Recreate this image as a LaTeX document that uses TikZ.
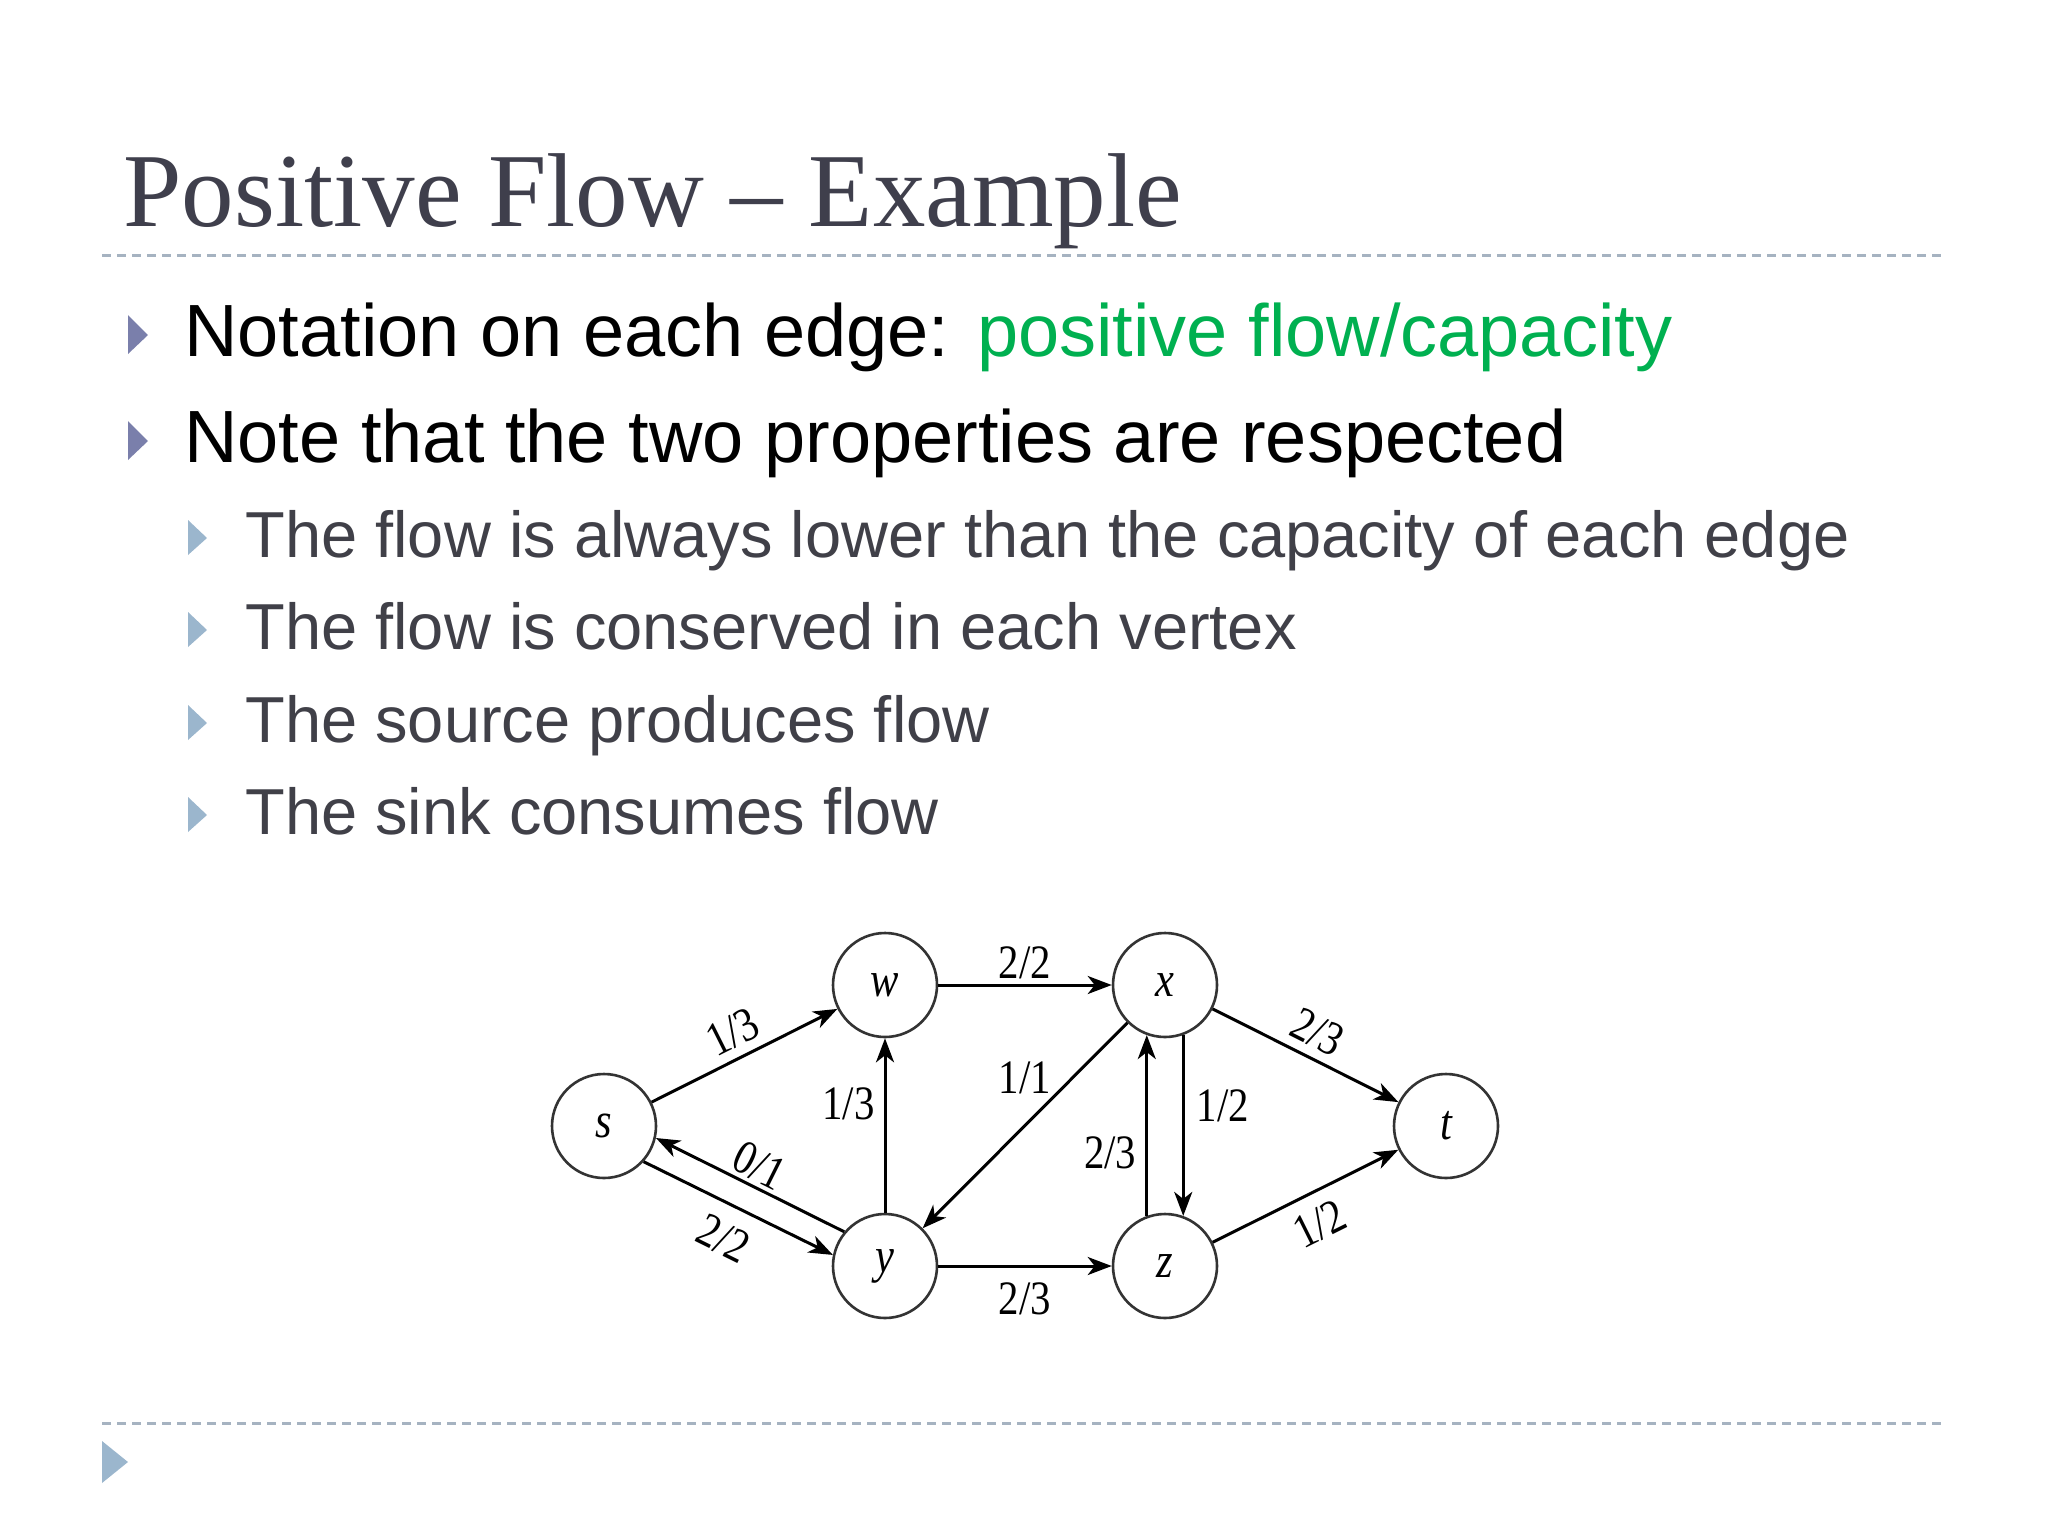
\documentclass[tikz,border=0pt]{standalone}
\usepackage{fontspec}
\usetikzlibrary{arrows.meta}
\newfontfamily\titlefont{Liberation Serif}
\newfontfamily\bodyfont{Liberation Sans}
\newfontfamily\lblfont[FakeStretch=0.85]{Liberation Serif}
\definecolor{titlecol}{HTML}{3F3F4C}
\definecolor{subcol}{HTML}{404048}
\definecolor{greencol}{HTML}{00B050}
\definecolor{bulletA}{HTML}{7A7FAB}
\definecolor{bulletB}{HTML}{9BB6CD}
\definecolor{rulecol}{HTML}{A6B3C1}
\begin{document}
\begin{tikzpicture}[x=0.5pt,y=-0.5pt,
  rulestyle/.style={draw=rulecol, line width=1.5pt, dash pattern=on 4.5pt off 3pt},
  txt/.style={anchor=base west, inner sep=0pt},
  vtx/.style={circle, draw=black!80, line width=1.3pt, minimum size=52pt, inner sep=0pt,
    font=\lblfont\itshape\fontsize{25pt}{25pt}\selectfont},
  lbl/.style={font=\lblfont\fontsize{24pt}{24pt}\selectfont, inner sep=0pt},
  arr/.style={line width=1.5pt, -{Stealth[length=12pt, width=9pt, inset=3.5pt]}},
  rarr/.style={line width=1.5pt, {Stealth[length=12pt, width=9pt, inset=3.5pt]}-}
]
\useasboundingbox (0,0) rectangle (2048,1536);

% title
\node[txt, font=\titlefont\fontsize{52.5pt}{60pt}\selectfont, text=titlecol] (title) at (123,226) {Positive Flow – Example};
\draw[rulestyle] (102,255) -- (1946,255);
\draw[rulestyle] (102,1423) -- (1946,1423);

% level 1 bullets
\fill[bulletA] (128,315) -- (148,335) -- (128,354) -- cycle;
\fill[bulletA] (128,421) -- (148,441) -- (128,460) -- cycle;
\node[txt, font=\bodyfont\fontsize{37pt}{44pt}\selectfont] (b1) at (184,356) {Notation on each edge: \textcolor{greencol}{positive flow/capacity}};
\node[txt, font=\bodyfont\fontsize{37pt}{44pt}\selectfont] (b2) at (184,462) {Note that the two properties are respected};

% level 2 bullets
\foreach \yy in {557,649,742,834} {
  \fill[bulletB] (188,\yy-37) -- (207,\yy-19) -- (188,\yy-2) -- cycle;
}
\begin{scope}[every node/.style={txt, font=\bodyfont\fontsize{32.5pt}{40pt}\selectfont, text=subcol}]
\node (c1) at (245,557) {The flow is always lower than the capacity of each edge};
\node (c2) at (245,649) {The flow is conserved in each vertex};
\node (c3) at (245,742) {The source produces flow};
\node (c4) at (245,834) {The sink consumes flow};
\end{scope}

% footer triangle
\fill[bulletB] (102,1441) -- (128,1462) -- (102,1483) -- cycle;

% graph
\node[vtx] (s) at (604,1126) {s};
\node[vtx] (w) at (885,985) {w};
\node[vtx] (x) at (1165,985) {x};
\node[vtx] (t) at (1446,1126) {t};
\node[vtx] (y) at (885,1266) {y};
\node[vtx] (z) at (1165,1266) {z};

\draw[arr] (s) -- node[lbl, sloped, above=4.5pt] {1/3} (w);
\draw[arr] (w) -- node[lbl, above=2.5pt] {2/2} (x);
\draw[arr] (x) -- node[lbl, sloped, above=4.5pt] {2/3} (t);
\draw[arr] (z) -- node[lbl, sloped, below=7pt] {1/2} (t);
\draw[arr] (y) -- node[lbl, pos=0.625, left=4.5pt] {1/3} (w);
\draw[arr] (x) -- node[lbl, midway, yshift=24pt] {1/1} (y);
\draw[arr] (y) -- node[lbl, below=7.5pt] {2/3} (z);
\draw[arr] (z.110) -- node[lbl, pos=0.35, left=4.5pt] {2/3} (x.250);
\draw[arr] (x.290) -- node[lbl, pos=0.39, right=6pt] {1/2} (z.70);
\draw[arr] (s.-42) -- node[lbl, sloped, below=8pt] {2/2} (y.168.5);
\draw[rarr] (s.-13) -- node[lbl, sloped, above=2pt] {0/1} (y.140);
\end{tikzpicture}
\end{document}
